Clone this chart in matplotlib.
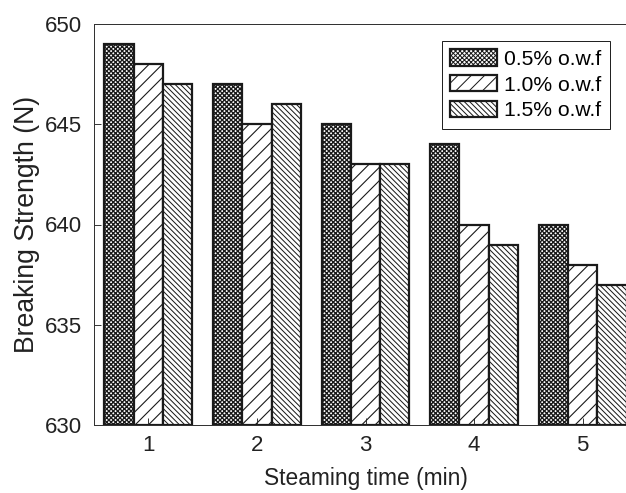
import matplotlib
matplotlib.use('Agg')
import matplotlib.pyplot as plt
import numpy as np

# steaming time groups and breaking strength for each dye concentration
steaming_time = [1, 2, 3, 4, 5]
series_labels = ['0.5% o.w.f', '1.0% o.w.f', '1.5% o.w.f']
strength_05 = [649, 647, 645, 644, 640]
strength_10 = [648, 645, 643, 640, 638]
strength_15 = [647, 646, 643, 639, 637]
y_ticks = [630, 635, 640, 645, 650]

plt.rcParams['font.family'] = ['Liberation Sans', 'DejaVu Sans']
plt.rcParams['hatch.color'] = '#1a1a1a'

dpi = 80
fig = plt.figure(figsize=(626 / dpi, 493 / dpi), dpi=dpi)
# axes runs past the right edge, the reference is cropped there
ax = fig.add_axes([94 / 626, 68 / 493, 543 / 626, 401 / 493])

x = np.array(steaming_time, dtype=float)
width = 0.27
hatches = ['xxxxxx', '//', '\\' * 5]
hatch_lw = [1.2, 1.0, 0.9]
all_series = [strength_05, strength_10, strength_15]
for i, (vals, lab, h) in enumerate(zip(all_series, series_labels, hatches)):
    plt.rcParams['hatch.linewidth'] = hatch_lw[i]
    ax.bar(x + (i - 1) * width, np.array(vals) - 630, bottom=630, width=width,
           color='white', edgecolor='#1a1a1a', linewidth=2.0, hatch=h, label=lab)

ax.set_xlim(0.5, 5.5)
ax.set_ylim(630, 650)
ax.set_xticks(steaming_time)
ax.set_yticks(y_ticks)
ax.tick_params(direction='in', length=6, width=0.8, labelsize=20, colors='#222222')
ax.tick_params(axis='x', pad=9)
ax.tick_params(axis='y', pad=11)
ax.spines['right'].set_visible(False)
for s in ['left', 'top', 'bottom']:
    ax.spines[s].set_linewidth(0.9)
    ax.spines[s].set_color('#333333')

ax.set_xlabel('Steaming time (min)', fontsize=20.5, color='#222222', labelpad=10)
ax.set_ylabel('Breaking Strength (N)', fontsize=24, color='#222222', labelpad=4)

leg = ax.legend(loc='upper right', bbox_to_anchor=(610 / 626, 1 - 41 / 493),
                bbox_transform=fig.transFigure, fontsize=19, fancybox=False,
                edgecolor='#222222', framealpha=1, handlelength=2.2, handleheight=0.8,
                borderpad=0.4, labelspacing=0.3, handletextpad=0.35, borderaxespad=0)
leg.get_frame().set_linewidth(0.9)

fig.savefig('out.png', dpi=dpi)
